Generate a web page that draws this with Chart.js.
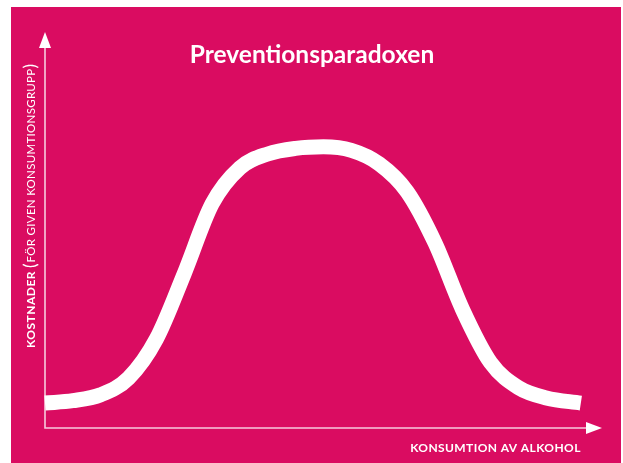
<!DOCTYPE html>
<html lang="sv">
<head>
<meta charset="utf-8">
<title>Preventionsparadoxen</title>
<script src="https://cdn.jsdelivr.net/npm/chart.js@4.4.1/dist/chart.umd.min.js"></script>
<style>
  html, body { margin: 0; padding: 0; background: #ffffff; }
  #wrap { position: relative; width: 623px; height: 463px; overflow: hidden; }
  #bg { position: absolute; left: 11px; top: 7px; width: 610px; height: 456px; background: #da0c61; }
  #cv { position: absolute; left: 0; top: 0; }
</style>
</head>
<body>
<div id="wrap">
  <div id="bg"></div>
  <canvas id="cv" width="623" height="463"></canvas>
</div>
<script>
// Prevention paradox curve (Chart.js line + hand drawn axes)
(() => {
  // ----- Data -----
  const consumption = [0, 5, 10, 15, 20, 25, 30, 35, 40, 45, 50, 55, 60, 65, 70, 75, 80, 85, 90, 96.2];
  const costs       = [6.3, 6.9, 8.4, 12.6, 22.5, 39.0, 56.6, 65.7, 69.2, 70.6, 71.0, 70.1, 66.7, 59.7, 46.8, 29.8, 16.5, 10.2, 7.6, 6.3];

  const titleText = 'Preventionsparadoxen';
  const xLabel = 'KONSUMTION AV ALKOHOL';
  const yLabelBold = 'KOSTNADER';
  const yLabelLight = 'FÖR GIVEN KONSUMTIONSGRUPP';

  const WHITE = '#ffffff';
  const AXIS = 'rgba(255,255,255,0.78)';

  // ----- Helpers -----
  function arrow(ctx, tx, ty, dir) {
    ctx.beginPath();
    if (dir === 'up') {
      ctx.moveTo(tx, ty);
      ctx.lineTo(tx - 6, ty + 16);
      ctx.lineTo(tx + 6, ty + 16);
    } else {
      ctx.moveTo(tx, ty);
      ctx.lineTo(tx - 16, ty - 6);
      ctx.lineTo(tx - 16, ty + 6);
    }
    ctx.closePath();
    ctx.fillStyle = WHITE;
    ctx.fill();
  }

  const axesPlugin = {
    id: 'arrowAxes',
    beforeDatasetsDraw(chart) {
      const { ctx, chartArea, scales } = chart;
      const x0 = scales.x.getPixelForValue(0);
      const y0 = scales.y.getPixelForValue(0);
      ctx.save();
      ctx.strokeStyle = AXIS;
      ctx.lineWidth = 1.6;
      ctx.beginPath();
      ctx.moveTo(x0, chartArea.top + 12);
      ctx.lineTo(x0, y0);
      ctx.lineTo(chartArea.right - 12, y0);
      ctx.stroke();
      arrow(ctx, x0, chartArea.top, 'up');
      arrow(ctx, chartArea.right, y0, 'right');
      ctx.restore();
    },
    afterDraw(chart) {
      const { ctx, scales } = chart;
      ctx.save();
      ctx.fillStyle = WHITE;

      // title
      ctx.font = 'bold 24.5px Lato, "Open Sans", sans-serif';
      ctx.textAlign = 'center';
      ctx.textBaseline = 'alphabetic';
      ctx.fillText(titleText, 312, 63);

      // x label, right aligned with end of curve
      ctx.font = 'bold 12px Lato, "Open Sans", sans-serif';
      ctx.letterSpacing = '0.4px';
      ctx.textAlign = 'right';
      ctx.fillText(xLabel, scales.x.getPixelForValue(consumption[consumption.length - 1]), 452);

      // y label, rotated
      ctx.translate(35, 348);
      ctx.rotate(-Math.PI / 2);
      ctx.textAlign = 'left';
      let pos = 0;
      ctx.font = 'bold 12px Lato, "Open Sans", sans-serif';
      ctx.letterSpacing = '0.5px';
      ctx.fillText(yLabelBold, pos, 0);
      pos += ctx.measureText(yLabelBold).width + 3;
      ctx.font = '17px Lato, "Open Sans", sans-serif';
      ctx.letterSpacing = '0px';
      ctx.fillText('(', pos, 1);
      pos += ctx.measureText('(').width + 1;
      ctx.font = '11.5px Lato, "Open Sans", sans-serif';
      ctx.letterSpacing = '0.3px';
      ctx.fillText(yLabelLight, pos, 0);
      pos += ctx.measureText(yLabelLight).width;
      ctx.font = '17px Lato, "Open Sans", sans-serif';
      ctx.letterSpacing = '0px';
      ctx.fillText(')', pos, 1);
      ctx.restore();
    }
  };

  // ----- Chart -----
  new Chart(document.getElementById('cv'), {
    type: 'line',
    data: {
      datasets: [{
        data: consumption.map((x, i) => ({ x, y: costs[i] })),
        borderColor: WHITE,
        borderWidth: 15,
        borderCapStyle: 'butt',
        borderJoinStyle: 'round',
        cubicInterpolationMode: 'monotone',
        pointRadius: 0,
        fill: false,
        clip: false
      }]
    },
    options: {
      responsive: false,
      animation: false,
      layout: { padding: { left: 45, right: 21, top: 32, bottom: 35 } },
      plugins: { legend: { display: false }, tooltip: { enabled: false }, title: { display: false } },
      scales: {
        x: { type: 'linear', min: 0, max: 100, display: false },
        y: { type: 'linear', min: 0, max: 100, display: false }
      }
    },
    plugins: [axesPlugin]
  });
})();
</script>
</body>
</html>
